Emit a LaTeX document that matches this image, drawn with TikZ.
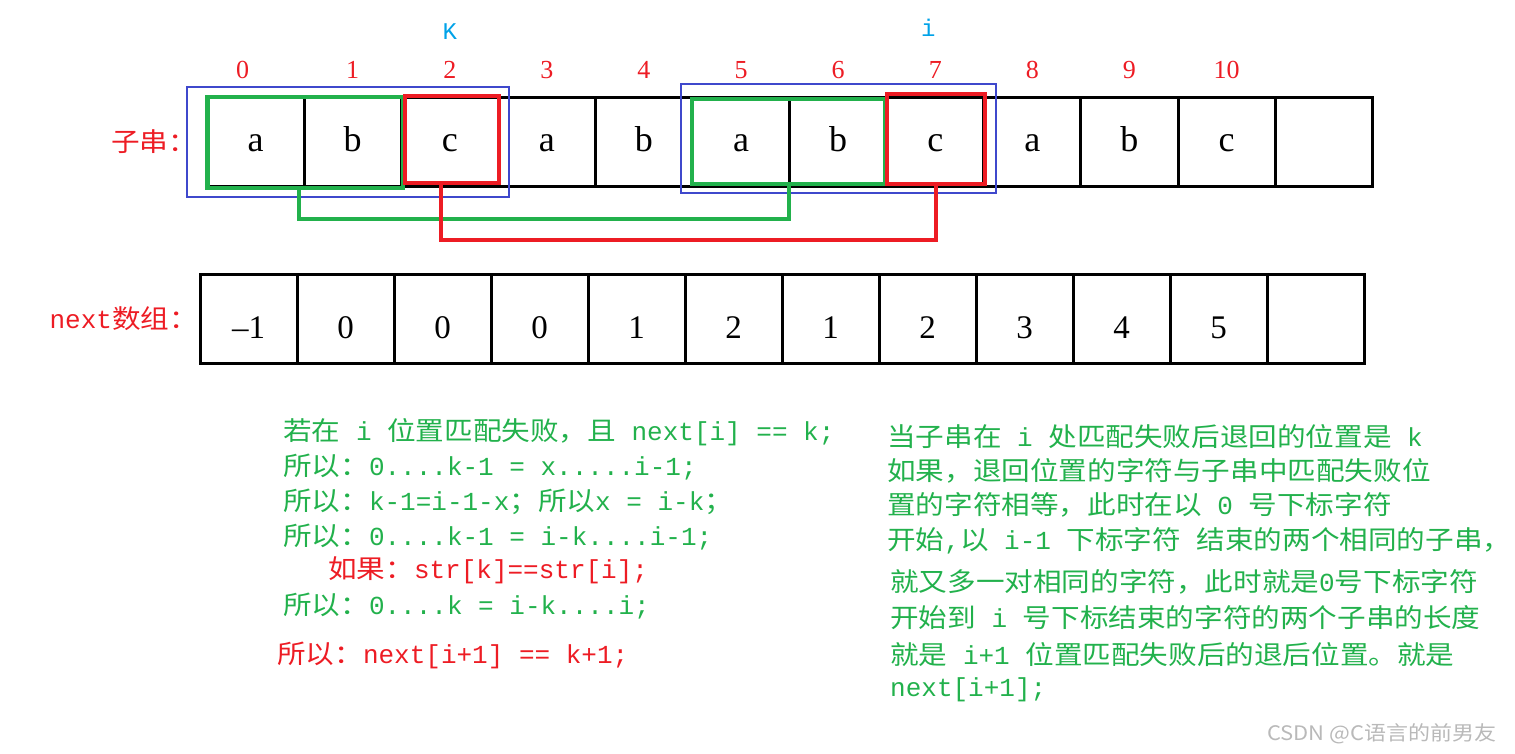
\documentclass[tikz,border=0pt]{standalone}
\usepackage{fontspec}
\usepackage{tikz}
\usetikzlibrary{positioning}
\newfontfamily\cjk[FakeStretch=1.1]{Noto Sans CJK SC}
\newfontfamily\mono{Liberation Mono}
\newfontfamily\timesfont{Liberation Serif}
\newcommand{\asc}[1]{{\mono #1}}
\definecolor{paintred}{RGB}{237,28,36}
\definecolor{paintgreen}{RGB}{34,177,76}
\definecolor{paintblue}{RGB}{63,72,204}
\definecolor{skyblue}{RGB}{0,162,232}

\tikzset{
  cell/.style={rectangle, draw=black, line width=3pt, outer sep=0pt, inner sep=0pt,
               minimum width=97.1pt, minimum height=89pt,
               font=\timesfont\fontsize{36}{36}\selectfont, text height=20pt, text depth=0pt},
  numcell/.style={cell, minimum width=97pt, text height=40pt,
                  font=\timesfont\fontsize{33}{33}\selectfont},
  idx/.style={draw=none, text=paintred, inner sep=2pt, minimum size=0pt, yshift=16pt,
              text height=17pt, text depth=0pt, font=\timesfont\fontsize{26}{26}\selectfont},
  ptr/.style={text=skyblue, font=\mono\fontsize{24}{24}\selectfont},
  note/.style={anchor=west, inner sep=0pt, text=paintgreen, font=\cjk\fontsize{26}{26}\selectfont},
  warn/.style={note, text=paintred},
  grnbox/.style={rectangle, draw=paintgreen, line width=4.5pt},
  redbox/.style={rectangle, draw=paintred, line width=4.5pt},
  blubox/.style={rectangle, draw=paintblue, line width=2.2pt},
  grnline/.style={draw=paintgreen, line width=4pt},
  redline/.style={draw=paintred, line width=4pt}
}

\begin{document}
\begin{tikzpicture}[x=1pt, y=-1pt]
  \useasboundingbox (0,0) rectangle (1515,753);

  % pattern string
  \node[cell, label={[idx, xshift=-13pt]above:0}] (s0) at (255.55,141.5) {a};
  \node[cell, right=0pt of s0, label={[idx]above:1}] (s1) {b};
  \node[cell, right=0pt of s1, label={[idx]above:2}] (s2) {c};
  \node[cell, right=0pt of s2, label={[idx]above:3}] (s3) {a};
  \node[cell, right=0pt of s3, label={[idx]above:4}] (s4) {b};
  \node[cell, right=0pt of s4, label={[idx]above:5}] (s5) {a};
  \node[cell, right=0pt of s5, label={[idx]above:6}] (s6) {b};
  \node[cell, right=0pt of s6, label={[idx]above:7}] (s7) {c};
  \node[cell, right=0pt of s7, label={[idx]above:8}] (s8) {a};
  \node[cell, right=0pt of s8, label={[idx]above:9}] (s9) {b};
  \node[cell, right=0pt of s9, label={[idx]above:10}] (s10) {c};
  \node[cell, right=0pt of s10] (s11) {};
  \node[warn, left=10pt of s0] (lbl1) {子串：};

  \node[ptr, above=54pt of s2] (kk) {K};
  \node[ptr, above=57pt of s7, xshift=-7pt] (ii) {i};

  % next array
  \node[numcell] (n0) at (248.5,318.5) {\textendash1};
  \node[numcell, right=0pt of n0] (n1) {0};
  \node[numcell, right=0pt of n1] (n2) {0};
  \node[numcell, right=0pt of n2] (n3) {0};
  \node[numcell, right=0pt of n3] (n4) {1};
  \node[numcell, right=0pt of n4] (n5) {2};
  \node[numcell, right=0pt of n5] (n6) {1};
  \node[numcell, right=0pt of n6] (n7) {2};
  \node[numcell, right=0pt of n7] (n8) {3};
  \node[numcell, right=0pt of n8] (n9) {4};
  \node[numcell, right=0pt of n9] (n10) {5};
  \node[numcell, right=0pt of n10] (n11) {};
  \node[warn, left=2pt of n0] (lbl2) {\asc{next}数组：};

  % matched parts
  \node[blubox, minimum width=322.4pt, minimum height=110pt] (b1) at (347.8,142) {};
  \node[blubox, minimum width=315pt, minimum height=109pt] (b2) at (838.5,138.5) {};
  \node[grnbox, minimum width=195.5pt, minimum height=91pt] (g1) at (305.25,142.5) {};
  \node[grnbox, minimum width=193pt, minimum height=85pt] (g2) at (788.5,141.5) {};
  \node[redbox, minimum width=94pt, minimum height=87pt] (r1) at (452,139.5) {};
  \node[redbox, minimum width=98pt, minimum height=90pt] (r2) at (936,139) {};
  \draw[grnline] ([xshift=-6pt]g1.south) -- ++(0,29) -| (g2.south);
  \draw[redline] ([xshift=-11pt]r1.south) -- ++(0,55) -| (r2.south);

  % left notes
  \node[note] (l1) at (283,432) {若在\asc{ i }位置匹配失败，且\asc{ next[i] == k;}};
  \node[note] (l2) at (283,467) {所以：\asc{0....k-1 = x.....i-1;}};
  \node[note] (l3) at (283,502) {所以：\asc{k-1=i-1-x}；所以\asc{x = i-k}；};
  \node[note] (l4) at (283,537) {所以：\asc{0....k-1 = i-k....i-1;}};
  \node[warn] (l5) at (328,570) {如果：\asc{str[k]==str[i];}};
  \node[note] (l6) at (283,606) {所以：\asc{0....k = i-k....i;}};
  \node[warn] (l7) at (277,655) {所以：\asc{next[i+1] == k+1;}};

  % right notes
  \node[note] (t1) at (887,437) {当子串在\asc{ i }处匹配失败后退回的位置是\asc{ k}};
  \node[note] (t2) at (887,471) {如果，退回位置的字符与子串中匹配失败位};
  \node[note] (t3) at (887,505) {置的字符相等，此时在以\asc{ 0 }号下标字符};
  \node[note] (t4) at (887,541) {开始\asc{,}以\asc{ i-1 }下标字符\asc{ }结束的两个相同的子串，};
  \node[note] (t5) at (890,582) {就又多一对相同的字符，此时就是\asc{0}号下标字符};
  \node[note] (t6) at (890,618) {开始到\asc{ i }号下标结束的字符的两个子串的长度};
  \node[note] (t7) at (890,655) {就是\asc{ i+1 }位置匹配失败后的退后位置。就是};
  \node[note] (t8) at (890,690) {\asc{next[i+1];}};

  \node[anchor=east, text=gray!55, font=\cjk\fontsize{20}{20}\selectfont] (wm) at (1500,734) {CSDN @C语言的前男友};
\end{tikzpicture}
\end{document}
